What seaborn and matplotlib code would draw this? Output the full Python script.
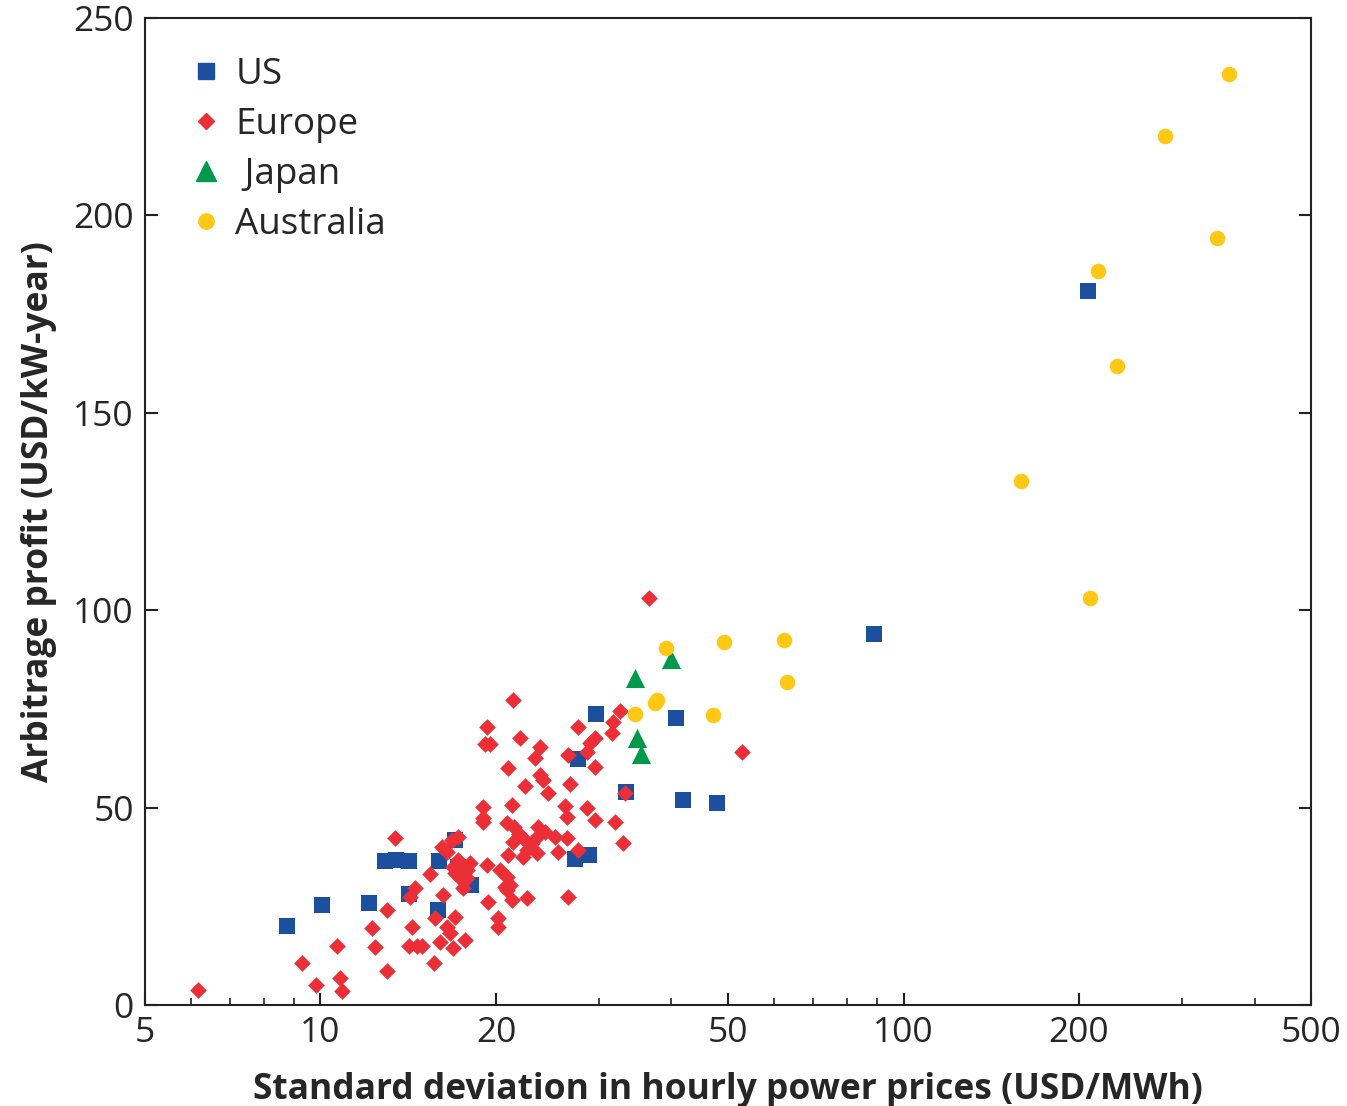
import matplotlib
matplotlib.use("Agg")
import matplotlib.pyplot as plt
from matplotlib.lines import Line2D
from matplotlib.ticker import FixedLocator, NullFormatter
import pandas as pd
import seaborn as sns

# values
us_x = [207, 89.0, 29.7, 40.7, 27.6, 33.4, 41.8, 47.9, 27.3, 28.9, 8.76, 10.06,
        12.1, 12.9, 13.5, 14.2, 16.0, 17.0, 18.1, 14.2, 15.9, 17.2]
us_y = [180.9, 94.0, 73.7, 72.7, 62.3, 54.0, 51.9, 51.2, 37.0, 38.0, 20.0, 25.3,
        25.8, 36.5, 36.7, 36.5, 36.5, 41.8, 30.4, 28.0, 24.1, 35.0]

eu_x = [6.16, 9.30, 9.82, 10.67, 10.80, 10.89, 12.26, 12.41, 13.00, 13.00,
        13.42, 14.19, 14.64, 14.93, 14.35, 14.24, 14.53, 15.41, 15.65, 15.72,
        16.03, 16.22, 16.48, 16.68, 16.87, 17.01, 17.70, 16.16, 16.48, 16.80,
        17.21, 17.21, 16.87, 17.48, 17.84, 17.01, 17.35, 17.84, 17.55, 18.05,
        19.00, 19.30, 19.38, 20.16, 20.16, 20.32, 20.89, 21.14, 20.89, 20.72,
        21.31, 22.61, 20.89, 21.48, 21.90, 22.25, 21.39, 22.61, 20.97, 22.25,
        19.00, 19.00, 21.31, 19.30, 19.15, 19.53, 21.39, 21.99, 23.79, 23.33,
        20.97, 23.79, 24.07, 22.43, 24.56, 26.79, 27.65, 28.99, 29.57, 28.65,
        26.58, 29.57, 32.63, 31.74, 31.62, 33.28, 26.27, 26.48, 28.65, 29.57,
        31.99, 33.02, 23.61, 24.27, 25.25, 26.48, 23.51, 23.06, 27.65, 25.55,
        23.51, 26.58, 36.60, 52.84]
eu_y = [3.8, 10.6, 5.1, 14.9, 6.8, 3.5, 19.5, 14.7, 24.1, 8.6,
        42.3, 14.9, 14.9, 14.9, 19.8, 27.4, 29.6, 33.2, 10.6, 22.0,
        16.0, 27.9, 19.8, 18.2, 14.4, 22.3, 16.5, 40.0, 38.8, 41.8,
        42.6, 36.7, 35.0, 35.0, 34.2, 33.4, 32.2, 32.2, 29.6, 36.0,
        46.4, 35.5, 26.1, 22.0, 19.8, 34.2, 32.4, 30.4, 29.1, 29.9,
        26.6, 27.1, 46.1, 45.1, 43.3, 42.3, 41.3, 39.3, 38.0, 37.5,
        50.2, 47.4, 50.7, 70.4, 66.1, 66.1, 77.3, 67.6, 65.3, 62.6,
        60.0, 58.3, 57.0, 55.5, 53.7, 56.0, 70.4, 66.4, 67.6, 64.1,
        63.3, 60.3, 74.5, 71.7, 68.9, 53.7, 50.4, 47.6, 49.9, 46.9,
        46.4, 41.0, 45.1, 43.8, 42.6, 42.3, 42.6, 41.0, 39.3, 38.8,
        38.5, 27.4, 103.1, 64.1]

jp_x = [39.9, 34.6, 34.9, 35.5]
jp_y = [87.6, 82.8, 67.6, 63.6]

au_x = [361.5, 281, 345, 215.6, 232, 159, 209, 39.1, 49.2, 62.4, 63.2, 47.1,
        37.8, 37.5, 34.6]
au_y = [235.8, 220.1, 194.3, 185.9, 161.9, 132.7, 103.1, 90.4, 91.9, 92.5,
        81.8, 73.5, 77.3, 76.4, 73.7]

regions = ["US", "Europe", "Japan", "Australia"]
colors = {"US": "#1d4f9f", "Europe": "#ec2f37", "Japan": "#00994c", "Australia": "#fec814"}
markers = {"US": "s", "Europe": "D", "Japan": "^", "Australia": "o"}
sizes = {"US": 135, "Europe": 72, "Japan": 190, "Australia": 125}

df = pd.concat([
    pd.DataFrame({"x": us_x, "y": us_y, "region": "US"}),
    pd.DataFrame({"x": eu_x, "y": eu_y, "region": "Europe"}),
    pd.DataFrame({"x": jp_x, "y": jp_y, "region": "Japan"}),
    pd.DataFrame({"x": au_x, "y": au_y, "region": "Australia"}),
])

sns.set_style("ticks")
plt.rcParams["font.family"] = ["Open Sans", "DejaVu Sans"]

fig = plt.figure(figsize=(13.47, 11.06), dpi=100)
ax = fig.add_axes([0.1076, 0.0913, 0.8657, 0.8924])

for r in regions:
    sub = df[df["region"] == r]
    sns.scatterplot(data=sub, x="x", y="y", marker=markers[r], color=colors[r],
                    s=sizes[r], linewidth=0, ax=ax, legend=False, zorder=3)

ax.set_xscale("log")
ax.set_xlim(5, 500)
ax.set_ylim(0, 250)
ax.xaxis.set_major_locator(FixedLocator([5, 10, 20, 50, 100, 200, 500]))
ax.xaxis.set_minor_locator(FixedLocator([6, 7, 8, 9, 30, 40, 60, 70, 80, 90, 300, 400]))
ax.xaxis.set_minor_formatter(NullFormatter())
ax.set_xticklabels(["5", "10", "20", "50", "100", "200", "500"])
ax.set_yticks([0, 50, 100, 150, 200, 250])

for s in ax.spines.values():
    s.set_linewidth(1.5)
    s.set_color("#222222")
ax.tick_params(axis="both", which="major", direction="in", length=9, width=1.5,
               labelsize=25.5, pad=8, right=True, color="#222222")
ax.tick_params(axis="x", which="minor", direction="in", length=5, width=1.2, color="#222222")

ax.set_xlabel("Standard deviation in hourly power prices (USD/MWh)", fontsize=25.5,
              fontweight="bold", labelpad=16)
ax.set_ylabel("Arbitrage profit (USD/kW-year)", fontsize=25.5, fontweight="bold",
              labelpad=12)

handles = [
    Line2D([], [], linestyle="none", marker="s", markersize=11, color=colors["US"]),
    Line2D([], [], linestyle="none", marker="D", markersize=8, color=colors["Europe"]),
    Line2D([], [], linestyle="none", marker="^", markersize=14, color=colors["Japan"]),
    Line2D([], [], linestyle="none", marker="o", markersize=11, color=colors["Australia"]),
]
ax.legend(handles, ["US", "Europe", " Japan", "Australia"], loc="upper left",
          bbox_to_anchor=(0.016, 0.987), frameon=False, fontsize=26.5,
          handlelength=0.9, handletextpad=0.35, labelspacing=0.38, borderpad=0.2)

fig.savefig("out.png", dpi=100)
